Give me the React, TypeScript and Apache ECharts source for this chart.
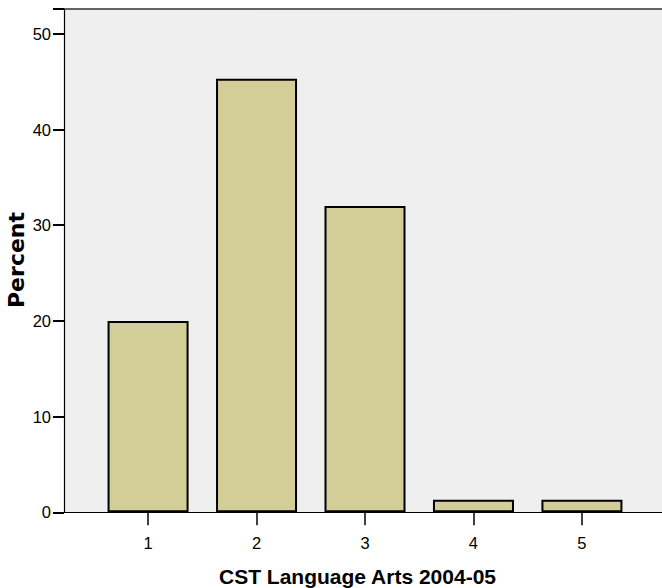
import React, { useEffect, useRef } from "react";
import * as echarts from "echarts";

const categories = [1, 2, 3, 4, 5];
const percents = [20.0, 45.3, 32.0, 1.3, 1.3];
const yTicks = [0, 10, 20, 30, 40, 50];
const xTitle = "CST Language Arts 2004-05";
const yTitle = "Percent";

export default function App() {
  const ref = useRef<HTMLDivElement>(null);
  useEffect(() => {
    document.body.style.margin = "0";
    document.body.style.overflow = "hidden";
    document.documentElement.style.overflow = "hidden";
    const chart = echarts.init(ref.current!, null, { renderer: "svg" });
    const tickFont = "'Liberation Sans', Arial, sans-serif";
    chart.setOption({
      animation: false,
      backgroundColor: "#ffffff",
      grid: {
        left: 64,
        top: 9,
        width: 602,
        height: 503.3,
        outerBoundsMode: "none",
        containLabel: false,
        show: true,
        backgroundColor: "#efefef",
        borderWidth: 0,
      },
      xAxis: [
        {
          type: "value",
          min: 0.225,
          max: 5.775,
          axisLine: { show: true, onZero: false, lineStyle: { color: "#000", width: 1.2 } },
          axisTick: {
            show: true,
            length: 13,
            customValues: categories,
            lineStyle: { color: "#000", width: 1.5 },
          },
          axisLabel: {
            customValues: categories,
            margin: 22,
            fontFamily: tickFont,
            fontSize: 16.5,
            color: "#000",
            formatter: (v: number) => String(v),
          },
          splitLine: { show: false },
        },
        {
          type: "value",
          position: "top",
          min: 0.225,
          max: 5.775,
          axisLine: { show: true, onZero: false, lineStyle: { color: "#333", width: 1.5 } },
          axisTick: { show: false },
          axisLabel: { show: false },
          splitLine: { show: false },
        },
      ],
      yAxis: {
        type: "value",
        min: 0,
        max: 52.6,
        interval: 10,
        axisLine: { show: true, lineStyle: { color: "#000", width: 1.2 } },
        axisTick: { show: true, length: 11, lineStyle: { color: "#000", width: 2 } },
        axisLabel: {
          margin: 13,
          fontFamily: tickFont,
          fontSize: 16.5,
          color: "#000",
          customValues: yTicks,
        },
        splitLine: { show: false },
      },
      series: [
        {
          type: "bar",
          data: categories.map((c, i) => [c, percents[i]]),
          barWidth: 81,
          itemStyle: { color: "#d3ce97", borderColor: "#000", borderWidth: 2 },
        },
      ],
      graphic: [
        {
          type: "text",
          x: 357.5,
          y: 576,
          style: {
            text: xTitle,
            font: "bold 21px 'Liberation Sans', Arial, sans-serif",
            fill: "#000",
            align: "center",
            verticalAlign: "middle",
          },
        },
        {
          type: "text",
          x: 16.5,
          y: 260,
          rotation: Math.PI / 2,
          style: {
            text: yTitle,
            font: "bold 22px 'DejaVu Sans', sans-serif",
            fill: "#000",
            align: "center",
            verticalAlign: "middle",
          },
        },
      ],
    });
    return () => chart.dispose();
  }, []);
  return (
    <div
      ref={ref}
      style={{ position: "fixed", left: 0, top: 0, width: 700, height: 588 }}
    />
  );
}
